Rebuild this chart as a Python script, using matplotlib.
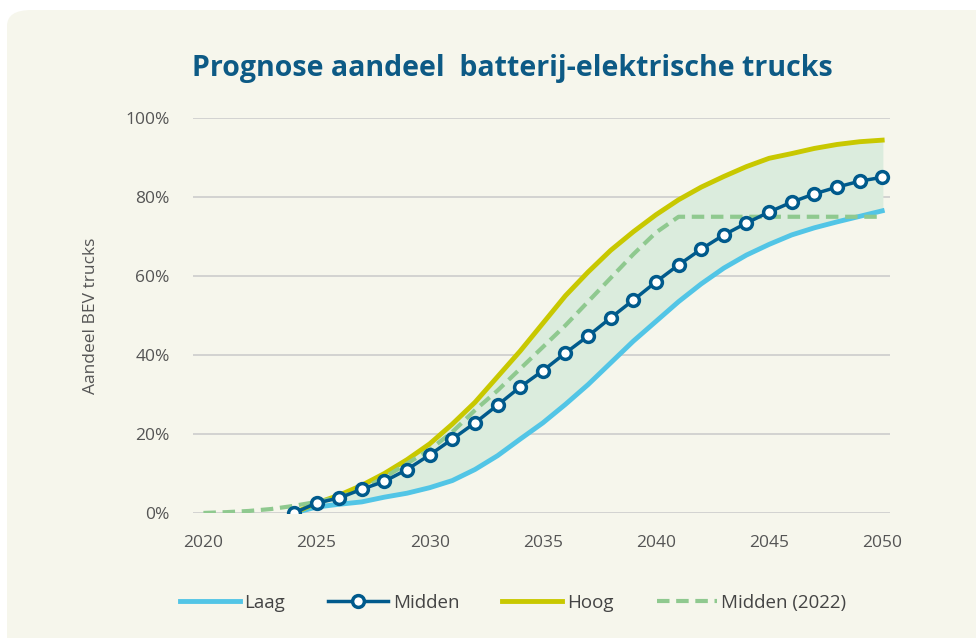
import matplotlib
matplotlib.use("Agg")
import matplotlib.pyplot as plt
from matplotlib.patches import FancyBboxPatch
from matplotlib.ticker import PercentFormatter

plt.rcParams['font.family'] = ['Open Sans', 'DejaVu Sans']

# Data (aandeel in %)
jaren = list(range(2024, 2051))
laag = [0, 1.5, 2.2, 2.8, 4.0, 5.0, 6.4, 8.2, 11.0, 14.5, 18.7, 22.8, 27.5, 32.5,
        38.0, 43.5, 48.5, 53.5, 58.0, 62.0, 65.3, 68.0, 70.4, 72.2, 73.7, 75.1, 76.5]
midden = [0, 2.5, 3.8, 6.0, 8.0, 11.0, 14.7, 18.7, 22.8, 27.3, 31.9, 36.0, 40.5, 44.8,
          49.4, 53.9, 58.5, 62.8, 66.8, 70.4, 73.4, 76.2, 78.7, 80.8, 82.5, 84.0, 85.0]
hoog = [0, 2.5, 4.5, 7.0, 10.0, 13.5, 17.5, 22.5, 28.0, 34.5, 41.0, 48.0, 55.0, 61.0,
        66.5, 71.2, 75.5, 79.3, 82.5, 85.2, 87.7, 89.8, 91.0, 92.3, 93.3, 94.0, 94.4]
jaren_2022 = list(range(2020, 2051))
midden_2022 = [0, 0.2, 0.5, 1.0, 1.8, 2.8, 4.0, 6.0, 9.0, 12.5, 16.0, 20.5, 26.0, 31.0,
               36.5, 42.0, 47.5, 53.5, 59.5, 65.5, 71.0, 75.0, 75.0, 75.0, 75.0, 75.0,
               75.0, 75.0, 75.0, 75.0, 75.0]

fig = plt.figure(figsize=(9.76, 6.38), dpi=100)
fig.patch.set_facecolor('white')

# achtergrondpaneel met ronde hoek
panel = FancyBboxPatch((7 / 976, -0.05), 1.1, (638 - 10) / 638 + 0.05,
                       boxstyle="round,pad=0,rounding_size=0.025",
                       transform=fig.transFigure, facecolor='#f6f6ec',
                       edgecolor='none', zorder=-10)
fig.add_artist(panel)

ax = fig.add_axes([0.198, 0.196, 0.714, 0.619])
ax.set_facecolor('none')

ax.fill_between(jaren, laag, hoog, color='#dbecdd', zorder=1)
ax.plot(jaren, laag, color='#52c5e6', lw=3.5, label='Laag', zorder=3)
ax.plot(jaren, midden, color='#005a8c', lw=2.5, marker='o', markersize=8.5,
        markerfacecolor='white', markeredgecolor='#005a8c', markeredgewidth=2.5,
        label='Midden', zorder=5)
ax.plot(jaren, hoog, color='#c8c800', lw=3.5, label='Hoog', zorder=3)
ax.plot(jaren_2022, midden_2022, color='#8fc98f', lw=3, ls=(0, (3, 1.6)),
        label='Midden (2022)', zorder=4)

ax.set_xlim(2019.55, 2050.35)
ax.set_ylim(0, 100)
ax.set_xticks(range(2020, 2051, 5))
ax.set_yticks(range(0, 101, 20))
ax.yaxis.set_major_formatter(PercentFormatter(decimals=0))
ax.grid(axis='y', color='#cccccc', lw=1.2)
ax.set_axisbelow(True)
for s in ax.spines.values():
    s.set_visible(False)
ax.tick_params(length=0, labelsize=12.5, labelcolor='#555555')
ax.tick_params(axis='y', pad=17)
ax.tick_params(axis='x', pad=16)
ax.set_ylabel('Aandeel BEV trucks', fontsize=12.5, color='#555555', labelpad=19)

fig.text(0.525, 0.893, 'Prognose aandeel  batterij-elektrische trucks',
         ha='center', va='center', fontsize=20.5, fontweight='bold', color='#0d5a85')

leg = ax.legend(loc='center', bbox_to_anchor=(0.459, -0.228), ncol=4, frameon=False,
                fontsize=13.5, handlelength=3.2, columnspacing=2.3, handletextpad=0.25)
for t in leg.get_texts():
    t.set_color('#444444')

fig.savefig('out.png', dpi=100, facecolor=fig.get_facecolor())
